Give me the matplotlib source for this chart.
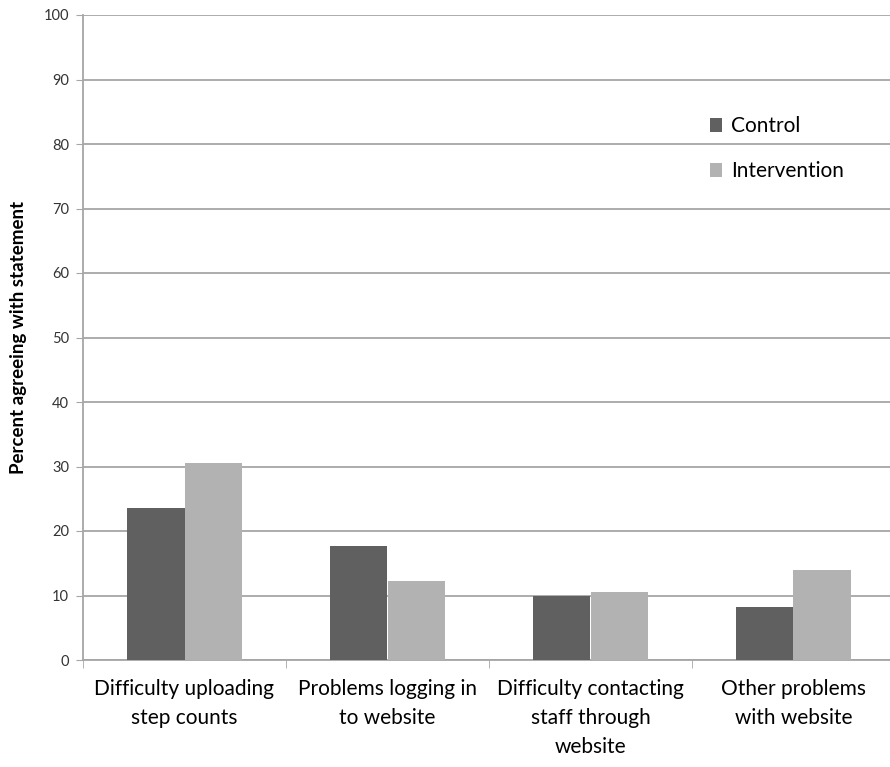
import numpy as np
import matplotlib.pyplot as plt

categories = ["Difficulty uploading\nstep counts", "Problems logging in\nto website",
              "Difficulty contacting\nstaff through\nwebsite", "Other problems\nwith website"]
control = [23.5, 17.7, 10.0, 8.2]
intervention = [30.5, 12.2, 10.5, 13.9]

plt.rcParams['font.family'] = ['Lato', 'DejaVu Sans']

fig = plt.figure(figsize=(8.9, 7.67), dpi=100)
ax = fig.add_axes([83 / 890, 107 / 767, 812 / 890, 645 / 767])

x = np.arange(len(categories))
w = 0.283
ax.bar(x - w / 2, control, w, color='#606060', label='Control', zorder=3)
ax.bar(x + w / 2, intervention, w, color='#b2b2b2', label='Intervention', zorder=3)

ax.set_ylim(0, 100)
ax.set_xlim(-0.5, 3.5)
ax.set_yticks(range(0, 101, 10))
ax.yaxis.grid(True, color='#a6a6a6', linewidth=1.3, zorder=0)
ax.tick_params(axis='y', length=5, color='#a6a6a6', labelsize=10.5, labelcolor='#333333', pad=5)

ax.set_xticks(x)
ax.set_xticklabels(categories, fontsize=15, linespacing=1.55)
ax.set_xticks(np.arange(-0.5, 4, 1), minor=True)
ax.tick_params(axis='x', which='major', length=0, pad=14)
ax.tick_params(axis='x', which='minor', length=6, color='#a6a6a6')

for s in ['top', 'right']:
    ax.spines[s].set_visible(False)
for s in ['left', 'bottom']:
    ax.spines[s].set_color('#a6a6a6')
    ax.spines[s].set_linewidth(1.3)

ax.set_ylabel('Percent agreeing with statement', fontsize=13.5, fontweight='bold', labelpad=12)

ax.legend(loc='upper left', bbox_to_anchor=(0.749, 0.872), frameon=False, fontsize=15,
          handlelength=0.6, handleheight=0.6, handletextpad=0.4, labelspacing=1.2)

fig.savefig('out.png', dpi=100)
